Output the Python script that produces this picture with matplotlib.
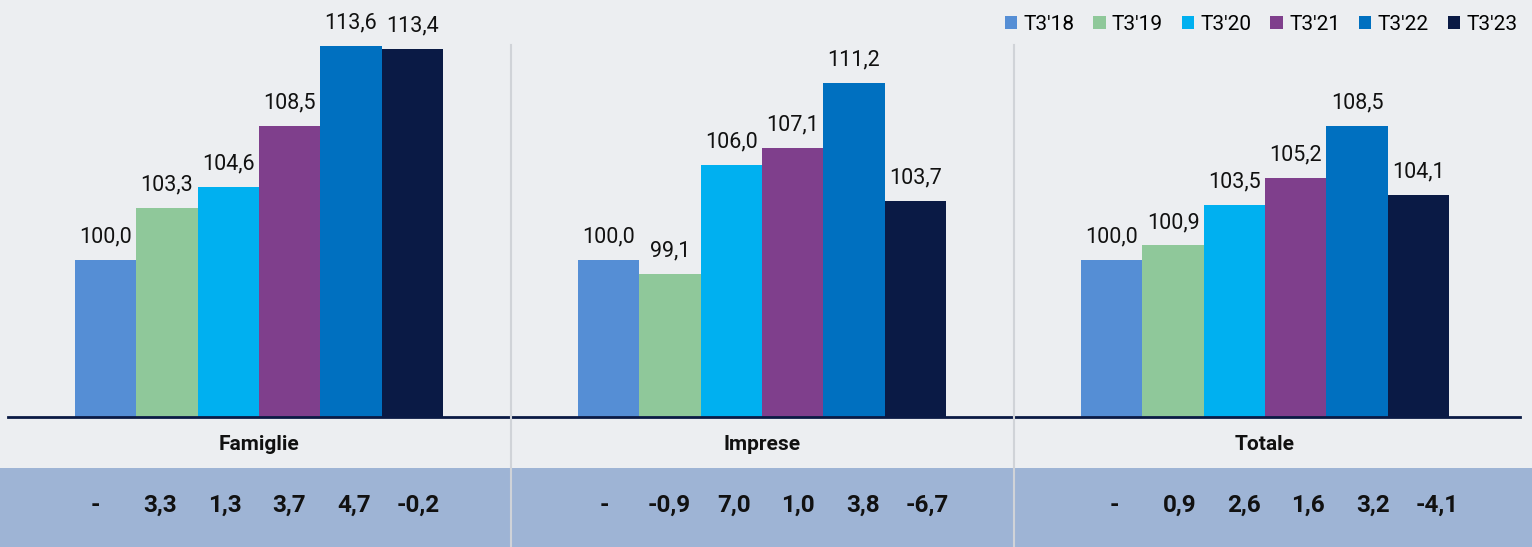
import numpy as np
import matplotlib.pyplot as plt
from matplotlib.patches import Rectangle
from matplotlib.transforms import blended_transform_factory

plt.rcParams['font.family'] = ['Roboto', 'DejaVu Sans']

gruppi = ['Famiglie', 'Imprese', 'Totale']
periodi = ["T3'18", "T3'19", "T3'20", "T3'21", "T3'22", "T3'23"]
colori = ['#558ed5', '#8fc89a', '#00b0f0', '#7f3f8c', '#0070c0', '#0a1a45']

# indici (T3'18 = 100), una lista per periodo: Famiglie, Imprese, Totale
t3_18 = [100.0, 100.0, 100.0]
t3_19 = [103.3, 99.1, 100.9]
t3_20 = [104.6, 106.0, 103.5]
t3_21 = [108.5, 107.1, 105.2]
t3_22 = [113.6, 111.2, 108.5]
t3_23 = [113.4, 103.7, 104.1]
serie = [t3_18, t3_19, t3_20, t3_21, t3_22, t3_23]

# variazioni % annue nella banda in basso
var_famiglie = ['-', '3,3', '1,3', '3,7', '4,7', '-0,2']
var_imprese = ['-', '-0,9', '7,0', '1,0', '3,8', '-6,7']
var_totale = ['-', '0,9', '2,6', '1,6', '3,2', '-4,1']
variazioni = [var_famiglie, var_imprese, var_totale]

W, H = 1532, 547
fig = plt.figure(figsize=(W / 100, H / 100), dpi=100)
fig.patch.set_facecolor('#eceef1')

# banda blu in basso (dietro agli assi)
band_top = (H - 468) / H
fig.patches.append(Rectangle((0, 0), 1, band_top, transform=fig.transFigure,
                             facecolor='#9eb4d5', edgecolor='none', zorder=-1))

base_px = 417
ax = fig.add_axes([0, (H - base_px) / H, 1, base_px / H])
ax.set_facecolor('none')
ax.set_ylim(90, 116.5)
ax.set_xlim(-259 / 503, (W - 259) / 503)
ax.axis('off')

x = np.arange(len(gruppi))
larg = 61.3 / 503
for i, (vals, col, lab) in enumerate(zip(serie, colori, periodi)):
    pos = x + (i - 2.5) * larg
    ax.bar(pos, np.array(vals) - 90, bottom=90, width=larg, color=col, label=lab)
    for xp, v in zip(pos, vals):
        ax.annotate(f'{v:.1f}'.replace('.', ','), (xp, v), xytext=(0, 9),
                    textcoords='offset points', ha='center', va='bottom',
                    fontsize=15.5, color='#111111')

# linea di base
ax.axhline(90, xmin=8 / W, xmax=1520 / W, color='#0a1a45', linewidth=2, clip_on=False)

tr = blended_transform_factory(ax.transData, fig.transFigure)

# separatori verticali
for xs in [0.5, 1.5]:
    ax.plot([xs, xs], [0, 1 - 45 / H], transform=tr,
            color='#d0d3d8', linewidth=1.5, clip_on=False)

# la tabella in basso ha colonne un po' più larghe delle barre
passo_tab = 64.5 / 503
spost_tab = [-2 / 503, 4 / 503, 11 / 503]
for g, nome in enumerate(gruppi):
    ax.text(x[g], (H - 445) / H, nome, transform=tr, ha='center', va='center',
            fontsize=15, fontweight='bold', color='#111111')
    for i, v in enumerate(variazioni[g]):
        ax.text(x[g] + spost_tab[g] + (i - 2.5) * passo_tab, (H - 505) / H, v,
                transform=tr, ha='center', va='center', fontsize=17.5,
                fontweight='bold', color='#111111')

handles, labels = ax.get_legend_handles_labels()
fig.legend(handles, labels, loc='upper right', bbox_to_anchor=(1.0, 1.0), ncol=6,
           frameon=False, fontsize=15, handlelength=0.6, handleheight=0.6,
           handletextpad=0.3, columnspacing=0.9, borderaxespad=0.3)

fig.savefig('out.png', dpi=100, facecolor=fig.get_facecolor())
